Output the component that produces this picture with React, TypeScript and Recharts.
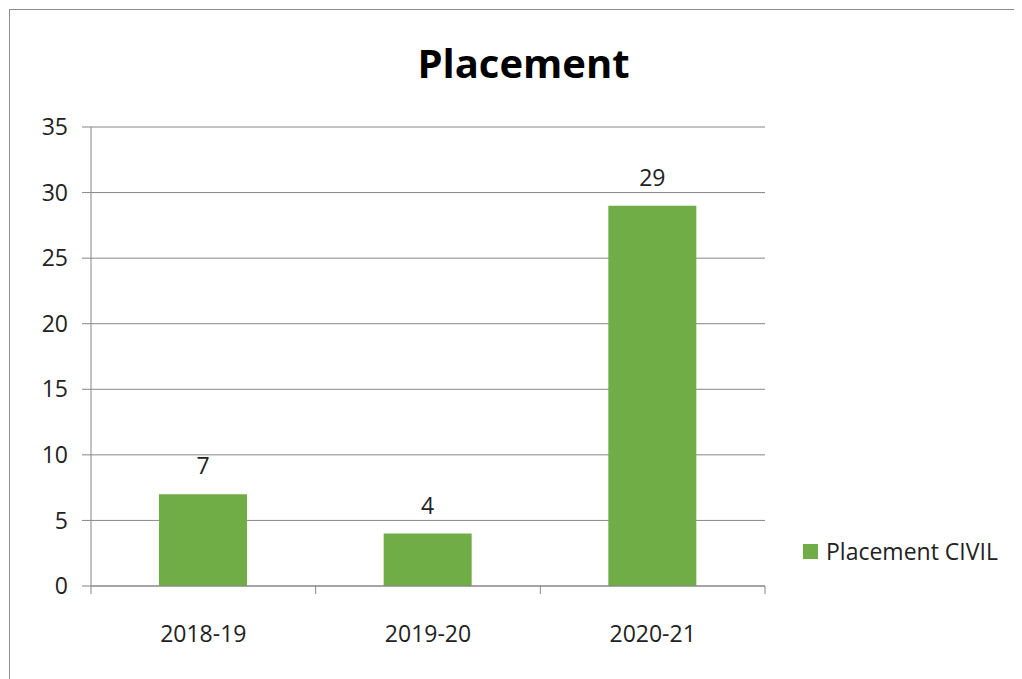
import { BarChart, Bar, XAxis, YAxis, CartesianGrid, Legend, LabelList } from 'recharts';

const years = ['2018-19', '2019-20', '2020-21'];
const placements = [7, 4, 29];
const yTicks = [0, 5, 10, 15, 20, 25, 30, 35];
const boundaries = [0, 1, 2, 3];

const GREEN = '#70ad47';
const GRID = '#868686';
const FONT = '"Open Sans", sans-serif';

const data = years.map((y, i) => ({ year: y, idx: i + 0.5, 'Placement CIVIL': placements[i] }));

function LegendBox({ payload }: any) {
  return (
    <div>
      {(payload || []).map((p: any) => (
        <div key={p.value} style={{ display: 'flex', alignItems: 'center', fontFamily: FONT, fontSize: 23, color: '#222' }}>
          <span style={{ width: 15, height: 15, background: GREEN, display: 'inline-block', marginRight: 8 }} />
          <span>{p.value}</span>
        </div>
      ))}
    </div>
  );
}

// boundary ticks only, no labels
const NoLabel = () => <g />;

export default function App() {
  return (
    <div
      style={{
        position: 'relative',
        marginLeft: 1,
        marginTop: 1,
        width: 1012,
        height: 669,
        borderLeft: '1px solid #8c8c8c',
        borderTop: '1px solid #8c8c8c',
        background: '#fff',
        overflow: 'hidden',
      }}
    >
      <div
        style={{
          position: 'absolute',
          left: 0,
          width: 1027,
          top: 25,
          textAlign: 'center',
          fontFamily: FONT,
          fontWeight: 700,
          fontSize: 40,
          color: '#000',
        }}
      >
        Placement
      </div>
      <BarChart
        width={1012}
        height={669}
        data={data}
        margin={{ top: 117, right: 37, bottom: 0, left: 0 }}
      >
        <CartesianGrid xAxisId="b" vertical={false} stroke={GRID} strokeOpacity={1} />
        <XAxis
          xAxisId="a"
          type="number"
          dataKey="idx"
          domain={[0, 3]}
          ticks={boundaries}
          tick={NoLabel}
          tickSize={8}
          height={1}
          stroke={GRID}
          tickLine={{ stroke: GRID }}
        />
        <XAxis
          xAxisId="b"
          dataKey="year"
          axisLine={false}
          tickLine={false}
          height={92}
          tickMargin={33}
          tick={{ fill: '#222', fontFamily: FONT, fontSize: 23 }}
        />
        <YAxis
          domain={[0, 35]}
          ticks={yTicks}
          width={81}
          tickSize={9}
          tickMargin={14}
          stroke={GRID}
          tickLine={{ stroke: GRID }}
          tick={{ fill: '#222', fontFamily: FONT, fontSize: 23 }}
        />
        <Legend
          layout="horizontal"
          verticalAlign="middle"
          align="right"
          content={LegendBox}
          wrapperStyle={{ position: 'absolute', left: 793, top: 525, width: 220 }}
        />
        <Bar
          xAxisId="b"
          dataKey="Placement CIVIL"
          fill={GREEN}
          barSize={88}
          isAnimationActive={false}
        >
          <LabelList
            dataKey="Placement CIVIL"
            position="top"
            offset={20}
            style={{ fill: '#222', fontFamily: FONT, fontSize: 23 }}
          />
        </Bar>
      </BarChart>
    </div>
  );
}
